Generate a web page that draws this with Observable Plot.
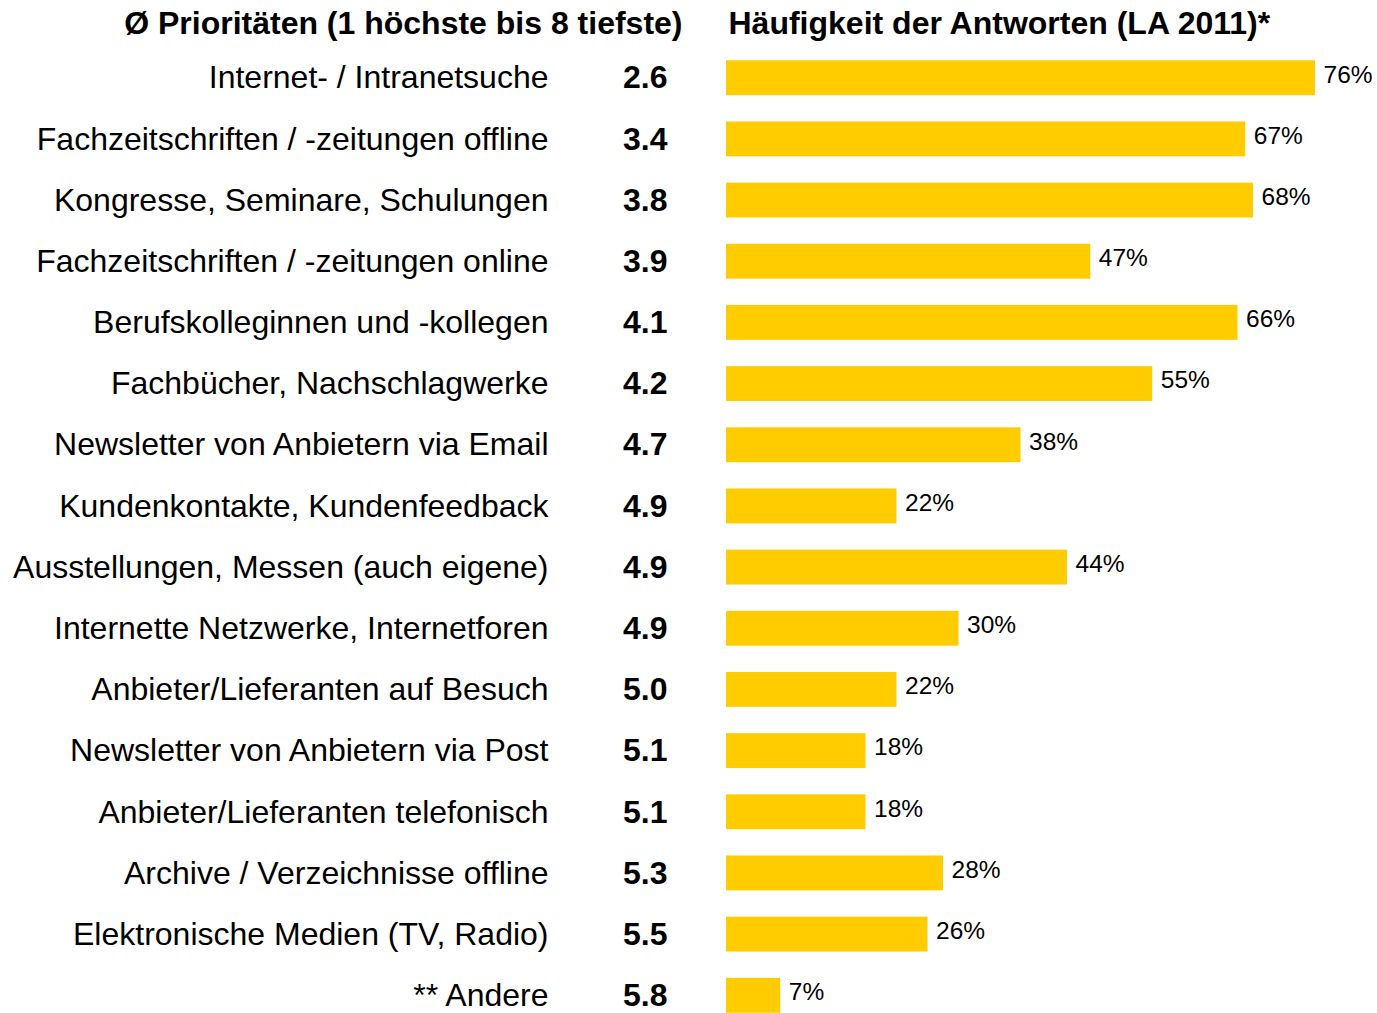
<!DOCTYPE html>
<html>
<head>
<meta charset="utf-8">
<script src="https://cdn.jsdelivr.net/npm/d3@7"></script>
<script src="https://cdn.jsdelivr.net/npm/@observablehq/plot@0.6"></script>
<style>
  html, body { margin: 0; padding: 0; background: #fff; }
  #chart svg { display: block; font-family: "Liberation Sans", Arial, sans-serif; }
</style>
</head>
<body>
<div id="chart"></div>
<script>
const categories = [
  "Internet- / Intranetsuche",
  "Fachzeitschriften / -zeitungen offline",
  "Kongresse, Seminare, Schulungen",
  "Fachzeitschriften / -zeitungen online",
  "Berufskolleginnen und -kollegen",
  "Fachbücher, Nachschlagwerke",
  "Newsletter von Anbietern via Email",
  "Kundenkontakte, Kundenfeedback",
  "Ausstellungen, Messen (auch eigene)",
  "Internette Netzwerke, Internetforen",
  "Anbieter/Lieferanten auf Besuch",
  "Newsletter von Anbietern via Post",
  "Anbieter/Lieferanten telefonisch",
  "Archive / Verzeichnisse offline",
  "Elektronische Medien (TV, Radio)",
  "** Andere"
];
const priorities = [2.6, 3.4, 3.8, 3.9, 4.1, 4.2, 4.7, 4.9, 4.9, 4.9, 5.0, 5.1, 5.1, 5.3, 5.5, 5.8];
const frequencies = [76, 67, 68, 47, 66, 55, 38, 22, 44, 30, 22, 18, 18, 28, 26, 7];
const titleLeft = "Ø Prioritäten (1 höchste bis 8 tiefste)";
const titleRight = "Häufigkeit der Antworten (LA 2011)*";

const data = categories.map((c, i) => ({cat: c, prio: priorities[i], freq: frequencies[i]}));

const chart = Plot.plot({
  width: 1377,
  height: 1013,
  marginLeft: 726,
  marginRight: 0,
  marginTop: 46,
  marginBottom: 0,
  x: {domain: [0, 84], axis: null},
  y: {domain: categories, range: [34, 1039], padding: 0.43, round: false, axis: null},
  marks: [
    Plot.barX(data, {x: "freq", y: "cat", fill: "#FFCC00"}),
    Plot.text(data, {x: 0, y: "cat", text: "cat", textAnchor: "end", dx: -178, dy: 0, fontSize: 32, fill: "#000"}),
    Plot.text(data, {x: 0, y: "cat", text: d => d.prio.toFixed(1), textAnchor: "end", dx: -59, dy: 0, fontSize: 32, fontWeight: "bold", fill: "#000"}),
    Plot.text(data, {x: "freq", y: "cat", text: d => d.freq + "%", textAnchor: "start", dx: 8, dy: -3.5, fontSize: 24.5, fill: "#000"}),
    Plot.text([titleLeft], {x: () => 0, text: d => d, frameAnchor: "top", lineAnchor: "middle", textAnchor: "end", dx: -44, dy: -23, fontSize: 32, fontWeight: "bold", fill: "#000"}),
    Plot.text([titleRight], {x: () => 0, text: d => d, frameAnchor: "top", lineAnchor: "middle", textAnchor: "start", dx: 2, dy: -23, fontSize: 32, fontWeight: "bold", fill: "#000"})
  ]
});
document.getElementById("chart").appendChild(chart);
</script>
</body>
</html>
